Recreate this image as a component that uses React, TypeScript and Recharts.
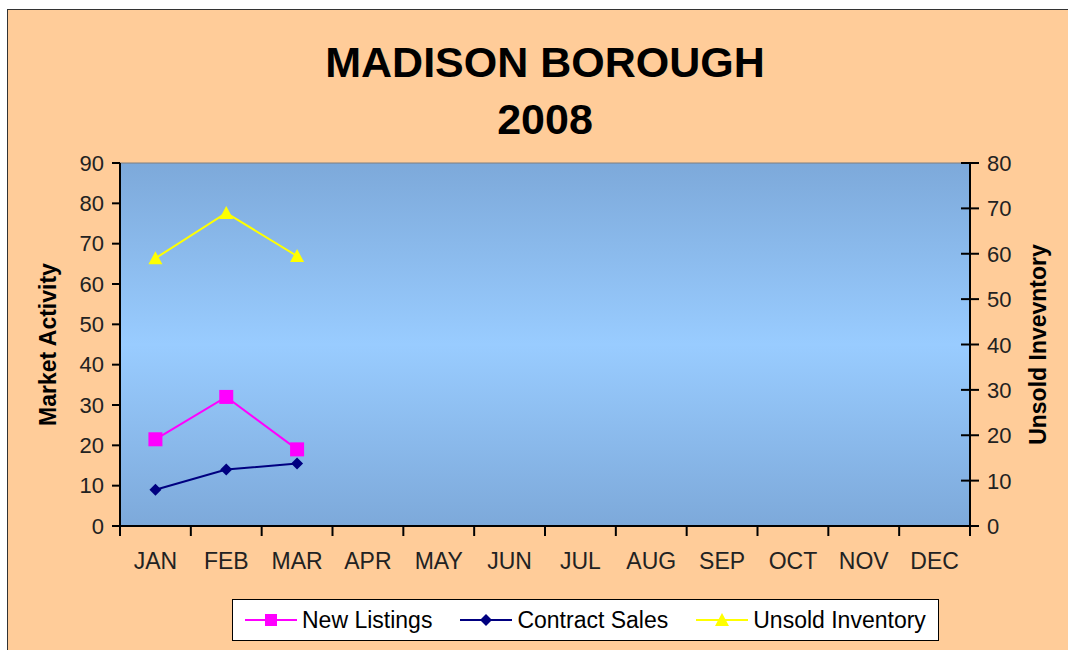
import { LineChart, Line, XAxis, YAxis, CartesianGrid, Legend, ReferenceLine, Label } from 'recharts';

const months = ['JAN', 'FEB', 'MAR', 'APR', 'MAY', 'JUN', 'JUL', 'AUG', 'SEP', 'OCT', 'NOV', 'DEC'];
const newListings = [21.5, 32, 19];
const contractSales = [9, 14, 15.5];
const unsoldInventory = [59, 69, 59.5];
const leftTicks = [0, 10, 20, 30, 40, 50, 60, 70, 80, 90];
const rightTicks = [0, 10, 20, 30, 40, 50, 60, 70, 80];
const seriesNames = ['New Listings', 'Contract Sales', 'Unsold Inventory'];
const seriesColors = ['#FF00FF', '#000080', '#FFFF00'];

const data = months.map((month, i) => ({
  month,
  newListings: newListings[i] ?? null,
  contractSales: contractSales[i] ?? null,
  unsoldInventory: unsoldInventory[i] ?? null,
}));

const FONT = '"Liberation Sans", Arial, sans-serif';
const W = 1068;
const H = 650;
const X_AXIS_H = 30;
const MARGIN = { top: 163, right: 18, bottom: 124 - X_AXIS_H, left: 40 };
const Y_LEFT_W = 80;
const Y_RIGHT_W = 80;
const PLOT_W = W - MARGIN.left - MARGIN.right - Y_LEFT_W - Y_RIGHT_W;

function MonthTick(props: any) {
  const { x, y, payload, index, visibleTicksCount } = props;
  const count = visibleTicksCount || months.length;
  const bw = PLOT_W / count;
  return (
    <g>
      <line x1={x - bw / 2} y1={y} x2={x - bw / 2} y2={y + 10} stroke="#000" strokeWidth={2} />
      {index === count - 1 && (
        <line x1={x + bw / 2} y1={y} x2={x + bw / 2} y2={y + 10} stroke="#000" strokeWidth={2} />
      )}
      <text x={x} y={y + 43} textAnchor="middle" fontSize={23} fill="#222" fontFamily={FONT}>
        {payload.value}
      </text>
    </g>
  );
}

function RightTick(props: any) {
  const { x, y, payload } = props;
  return (
    <g>
      <line x1={x - 9} y1={y} x2={x + 9} y2={y} stroke="#000" strokeWidth={2} />
      <text x={x + 17} y={y + 8} textAnchor="start" fontSize={22} fill="#222" fontFamily={FONT}>
        {payload.value}
      </text>
    </g>
  );
}

const SquareDot = (p: any) =>
  p.cy == null || p.value == null ? <g key={p.key} /> : (
    <rect key={p.key} x={p.cx - 7} y={p.cy - 7} width={14} height={14} fill="#FF00FF" />
  );

const DiamondDot = (p: any) =>
  p.cy == null || p.value == null ? <g key={p.key} /> : (
    <polygon
      key={p.key}
      points={`${p.cx},${p.cy - 6} ${p.cx + 6},${p.cy} ${p.cx},${p.cy + 6} ${p.cx - 6},${p.cy}`}
      fill="#000080"
    />
  );

const TriangleDot = (p: any) =>
  p.cy == null || p.value == null ? <g key={p.key} /> : (
    <polygon
      key={p.key}
      points={`${p.cx},${p.cy - 7} ${p.cx + 7},${p.cy + 6} ${p.cx - 7},${p.cy + 6}`}
      fill="#FFFF00"
    />
  );

const legendShapes = [
  (cx: number, cy: number) => <rect x={cx - 6} y={cy - 6} width={12} height={12} fill="#FF00FF" />,
  (cx: number, cy: number) => (
    <polygon points={`${cx},${cy - 6} ${cx + 6},${cy} ${cx},${cy + 6} ${cx - 6},${cy}`} fill="#000080" />
  ),
  (cx: number, cy: number) => (
    <polygon points={`${cx},${cy - 7} ${cx + 7},${cy + 6} ${cx - 7},${cy + 6}`} fill="#FFFF00" />
  ),
];

function LegendBox() {
  return (
    <div
      style={{
        boxSizing: 'border-box',
        width: 707,
        height: 42,
        background: '#fff',
        border: '1.5px solid #000',
        display: 'flex',
        alignItems: 'center',
        paddingLeft: 12,
        gap: 28,
        fontFamily: FONT,
        fontSize: 23,
        color: '#000',
      }}
    >
      {seriesNames.map((name, i) => (
        <div key={name} style={{ display: 'flex', alignItems: 'center' }}>
          <svg width={52} height={20} style={{ marginRight: 5 }}>
            <line x1={0} y1={10} x2={52} y2={10} stroke={seriesColors[i]} strokeWidth={2} />
            {legendShapes[i](26, 10)}
          </svg>
          <span>{name}</span>
        </div>
      ))}
    </div>
  );
}

export default function App() {
  return (
    <div style={{ position: 'absolute', left: 0, top: 0, width: W, height: H, background: '#fff', overflow: 'hidden' }}>
      <div
        style={{
          position: 'absolute',
          left: 7,
          top: 9,
          width: W,
          height: H,
          background: '#FFCC99',
          border: '1.5px solid #333',
        }}
      />
      <div
        style={{
          position: 'absolute',
          left: 0,
          top: 34,
          width: 1090,
          textAlign: 'center',
          fontFamily: FONT,
          fontWeight: 'bold',
          fontSize: 43,
          lineHeight: '57px',
          color: '#000',
        }}
      >
        <div>MADISON BOROUGH</div>
        <div>2008</div>
      </div>
      <div style={{ position: 'absolute', left: 0, top: 0 }}>
        <LineChart width={W} height={H} data={data} margin={MARGIN}>
          <defs>
            <linearGradient id="plotBg" x1="0" y1="0" x2="0" y2="1">
              <stop offset="0%" stopColor="#7DA9DA" />
              <stop offset="50%" stopColor="#99CCFF" />
              <stop offset="100%" stopColor="#7DA9DA" />
            </linearGradient>
          </defs>
          <CartesianGrid fill="url(#plotBg)" horizontal={false} vertical={false} stroke="none" />
          <XAxis
            dataKey="month"
            xAxisId="x"
            scale="band"
            height={X_AXIS_H}
            tickLine={false}
            tickSize={0}
            tickMargin={0}
            interval={0}
            axisLine={{ stroke: '#000', strokeWidth: 2 }}
            tick={<MonthTick />}
          />
          <YAxis
            yAxisId="left"
            orientation="left"
            width={Y_LEFT_W}
            domain={[0, 90]}
            ticks={leftTicks}
            interval={0}
            tickSize={8}
            tickMargin={8}
            axisLine={{ stroke: '#000', strokeWidth: 2 }}
            tickLine={{ stroke: '#000', strokeWidth: 2 }}
            tick={{ fontSize: 22, fill: '#222', fontFamily: FONT }}
          >
            <Label
              value="Market Activity"
              angle={-90}
              position="insideLeft"
              offset={8}
              style={{ textAnchor: 'middle', fontWeight: 'bold', fontSize: 23, fill: '#000', fontFamily: FONT }}
            />
          </YAxis>
          <YAxis
            yAxisId="right"
            orientation="right"
            width={Y_RIGHT_W}
            domain={[0, 80]}
            ticks={rightTicks}
            interval={0}
            tickSize={0}
            tickMargin={0}
            tickLine={false}
            axisLine={{ stroke: '#000', strokeWidth: 2 }}
            tick={<RightTick />}
          >
            <Label
              value="Unsold Invevntory"
              angle={-90}
              position="insideRight"
              offset={12}
              style={{ textAnchor: 'middle', fontWeight: 'bold', fontSize: 23, fill: '#000', fontFamily: FONT }}
            />
          </YAxis>
          <ReferenceLine yAxisId="left" xAxisId="x" y={90} stroke="#7f7f7f" strokeWidth={1} />
          <Line
            xAxisId="x"
            yAxisId="left"
            name={seriesNames[0]}
            dataKey="newListings"
            stroke={seriesColors[0]}
            strokeWidth={2}
            dot={SquareDot}
            isAnimationActive={false}
          />
          <Line
            xAxisId="x"
            yAxisId="left"
            name={seriesNames[1]}
            dataKey="contractSales"
            stroke={seriesColors[1]}
            strokeWidth={2}
            dot={DiamondDot}
            isAnimationActive={false}
          />
          <Line
            xAxisId="x"
            yAxisId="right"
            name={seriesNames[2]}
            dataKey="unsoldInventory"
            stroke={seriesColors[2]}
            strokeWidth={2}
            dot={TriangleDot}
            isAnimationActive={false}
          />
          <Legend
            layout="horizontal"
            verticalAlign="middle"
            align="center"
            content={<LegendBox />}
            wrapperStyle={{ left: 232, top: 599, width: 707, height: 42 }}
          />
        </LineChart>
      </div>
    </div>
  );
}
